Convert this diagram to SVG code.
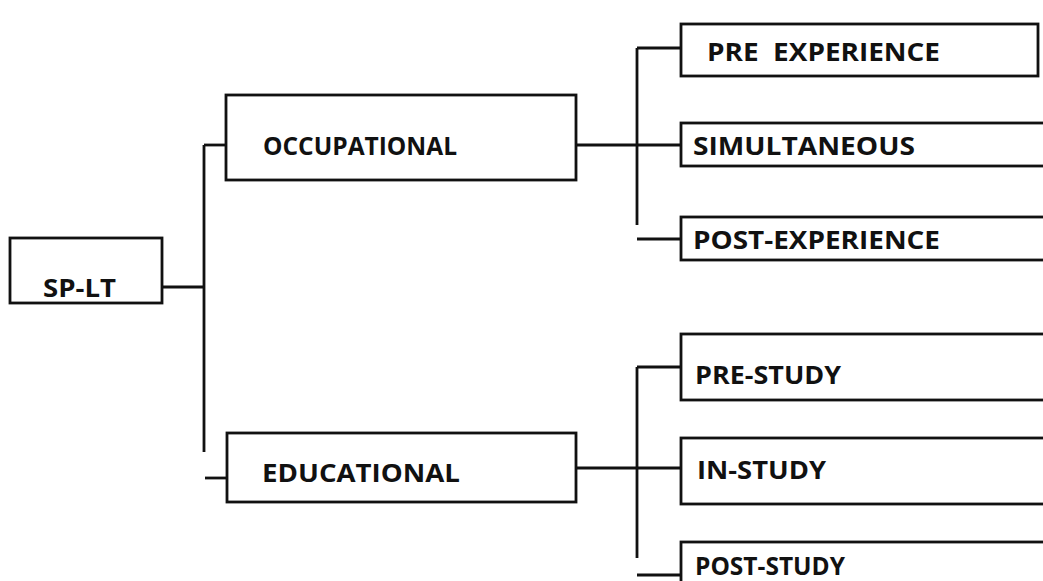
<svg xmlns="http://www.w3.org/2000/svg" width="1043" height="581" viewBox="0 0 1043 581">
  <style>
    .box { fill: #ffffff; stroke: #111111; stroke-width: 2.8; }
    .lbl { font-family: "Open Sans", "DejaVu Sans", sans-serif; font-weight: 700; font-size: 25px; fill: #111111; }
    .wire { fill: none; stroke: #111111; stroke-width: 2.8; stroke-linecap: butt; }
  </style>
  <rect width="1043" height="581" fill="#ffffff"/>

  <g id="connectors">
    <path class="wire" d="M162 287 H204"/>
    <path class="wire" d="M204 145 V452"/>
    <path class="wire" d="M204 145 H226"/>
    <path class="wire" d="M205 478 H227"/>
    <path class="wire" d="M576 145 H681"/>
    <path class="wire" d="M637 48 V225"/>
    <path class="wire" d="M637 48 H681"/>
    <path class="wire" d="M637 239 H681"/>
    <path class="wire" d="M576 468 H681"/>
    <path class="wire" d="M637 367 V558"/>
    <path class="wire" d="M637 367 H681"/>
    <path class="wire" d="M637 575 H681"/>
  </g>

  <g id="sp-lt">
    <rect class="box" x="10" y="238" width="152" height="65"/>
    <text class="lbl" x="43" y="297" textLength="73" lengthAdjust="spacingAndGlyphs">SP-LT</text>
  </g>

  <g id="occupational">
    <rect class="box" x="226" y="95" width="350" height="85"/>
    <text class="lbl" x="263" y="155" textLength="194" lengthAdjust="spacingAndGlyphs">OCCUPATIONAL</text>
  </g>

  <g id="educational">
    <rect class="box" x="227" y="433" width="349" height="69"/>
    <text class="lbl" x="262" y="482" textLength="198" lengthAdjust="spacingAndGlyphs">EDUCATIONAL</text>
  </g>

  <g id="pre-experience">
    <rect class="box" x="681" y="24" width="357" height="52"/>
    <text class="lbl" x="707" y="61" textLength="233" lengthAdjust="spacingAndGlyphs" xml:space="preserve">PRE  EXPERIENCE</text>
  </g>

  <g id="simultaneous">
    <rect class="box" x="681" y="123" width="370" height="43"/>
    <text class="lbl" x="693" y="155" textLength="222" lengthAdjust="spacingAndGlyphs">SIMULTANEOUS</text>
  </g>

  <g id="post-experience">
    <rect class="box" x="681" y="217" width="370" height="43"/>
    <text class="lbl" x="693" y="249" textLength="247" lengthAdjust="spacingAndGlyphs">POST-EXPERIENCE</text>
  </g>

  <g id="pre-study">
    <rect class="box" x="681" y="334" width="370" height="66"/>
    <text class="lbl" x="695" y="384" textLength="146" lengthAdjust="spacingAndGlyphs">PRE-STUDY</text>
  </g>

  <g id="in-study">
    <rect class="box" x="681" y="438" width="370" height="66"/>
    <text class="lbl" x="697" y="479" textLength="129" lengthAdjust="spacingAndGlyphs">IN-STUDY</text>
  </g>

  <g id="post-study">
    <rect class="box" x="681" y="542" width="370" height="60"/>
    <text class="lbl" x="695" y="575" textLength="150" lengthAdjust="spacingAndGlyphs">POST-STUDY</text>
  </g>
</svg>
